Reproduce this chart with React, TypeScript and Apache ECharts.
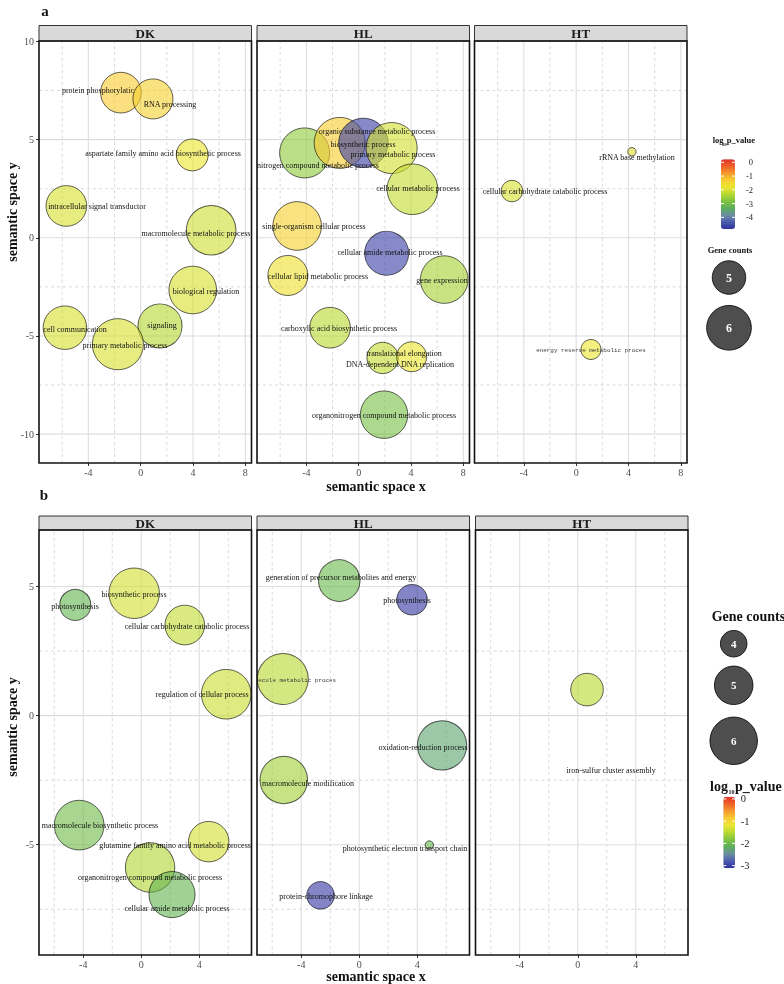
import React, { useEffect, useRef } from "react";
import * as echarts from "echarts";

// ---------------- data ----------------
const PANEL_NAMES = ["DK", "HL", "HT"];

// tick / grid-line values
const A_X_TICKS = [-4, 0, 4, 8];
const A_X_MINOR = [-6, -2, 2, 6];
const A_Y_TICKS = [10, 5, 0, -5, -10];
const A_Y_MINOR = [7.5, 2.5, -2.5, -7.5];
const B_X_TICKS = [-4, 0, 4];
const B_X_MINOR = [-6, -2, 2, 6];
const B_Y_TICKS = [5, 0, -5];
const B_Y_MINOR = [2.5, -2.5, -7.5];

// axis extents
const A_X_RANGE = [-7.77, 8.47];
const A_Y_RANGE = [-11.47, 10.02];
const B_X_RANGE = [-7.05, 7.6];
const B_Y_RANGE = [-9.27, 7.19];

// colour scale extents (log10 p_value) and legend breaks
const A_LOGP_RANGE = [-4.85, 0.22];
const B_LOGP_RANGE = [-3.12, 0.1];
const A_LOGP_BREAKS = [0, -1, -2, -3, -4];
const B_LOGP_BREAKS = [0, -1, -2, -3];
const A_COUNT_BREAKS = [5, 6];
const B_COUNT_BREAKS = [4, 5, 6];

// ---- figure a, DK ----
const A_DK_TERMS = [
  "protein phosphorylatic",
  "RNA processing",
  "aspartate family amino acid biosynthetic process",
  "intracellular signal transductor",
  "macromolecule metabolic process",
  "biological regulation",
  "cell communication",
  "signaling",
  "primary metabolic process",
];
const A_DK_X = [-1.51, 0.94, 3.94, -5.68, 5.39, 3.98, -5.79, 1.48, -1.74];
const A_DK_Y = [7.39, 7.07, 4.22, 1.62, 0.38, -2.66, -4.58, -4.49, -5.42];
const A_DK_GENES = [5.61, 5.55, 4.89, 5.61, 6.54, 6.31, 5.88, 5.94, 6.7];
const A_DK_LOGP = [-1.3, -1.4, -1.8, -2.0, -2.1, -2.0, -2.0, -2.35, -2.0];
const A_DK_LABEL_X = [-3.29, 2.27, 1.72, -3.33, 4.2, 4.99, -5.02, 1.61, -1.18];
const A_DK_LABEL_Y = [7.54, 6.82, 4.31, 1.63, 0.25, -2.69, -4.67, -4.42, -5.48];

// ---- figure a, HL ----
const A_HL_TERMS = [
  "cellular nitrogen compound metabolic process",
  "organic substance metabolic process",
  "biosynthetic process",
  "primary metabolic process",
  "cellular metabolic process",
  "single-organism cellular process",
  "cellular amide metabolic process",
  "cellular lipid metabolic process",
  "gene expression",
  "carboxylic acid biosynthetic process",
  "translational elongation",
  "DNA-dependent DNA replication",
  "organonitrogen compound metabolic process",
];
const A_HL_X = [-4.13, -1.45, 0.36, 2.52, 4.11, -4.7, 2.14, -5.41, 6.54, -2.19, 1.83, 4.05, 1.94];
const A_HL_Y = [4.32, 4.83, 4.83, 4.57, 2.47, 0.6, -0.79, -1.92, -2.13, -4.58, -6.12, -6.06, -9.01];
const A_HL_GENES = [6.58, 6.7, 6.51, 6.7, 6.65, 6.42, 5.94, 5.55, 6.31, 5.61, 4.85, 4.75, 6.29];
const A_HL_LOGP = [-2.67, -1.3, -4.65, -2.05, -2.2, -1.4, -4.65, -1.7, -2.47, -2.3, -2.2, -1.8, -2.92];
const A_HL_LABEL_X = [-4.08, 1.41, 0.32, 2.61, 4.53, -3.44, 2.41, -3.08, 6.38, -1.5, 3.46, 3.15, 1.94];
const A_HL_LABEL_Y = [3.72, 5.43, 4.75, 4.26, 2.53, 0.59, -0.7, -1.97, -2.14, -4.58, -5.86, -6.42, -9.05];

// ---- figure a, HT ----
const A_HT_TERMS = [
  "rRNA base methylation",
  "cellular carbohydrate catabolic process",
  "energy reserve metabolic proces",
];
const A_HT_X = [4.26, -4.91, 1.13];
const A_HT_Y = [4.38, 2.38, -5.69];
const A_HT_GENES = [3.8, 4.25, 4.18];
const A_HT_LOGP = [-2.0, -2.0, -1.8];
const A_HT_LABEL_X = [4.68, -2.37, 1.14];
const A_HT_LABEL_Y = [4.09, 2.37, -5.7];

// ---- figure b, DK ----
const B_DK_TERMS = [
  "photosynthesis",
  "biosynthetic process",
  "cellular carbohydrate catabolic process",
  "regulation of cellular process",
  "macromolecule biosynthetic process",
  "glutamine family amino acid metabolic process",
  "organonitrogen compound metabolic process",
  "cellular amide metabolic process",
];
const B_DK_X = [-4.55, -0.49, 3.0, 5.86, -4.28, 4.65, 0.61, 2.12];
const B_DK_Y = [4.29, 4.74, 3.51, 0.83, -4.24, -4.88, -5.88, -6.93];
const B_DK_GENES = [4.33, 6.38, 5.12, 6.28, 6.28, 5.2, 6.25, 5.83];
const B_DK_LOGP = [-2.05, -1.35, -1.45, -1.4, -1.95, -1.35, -1.55, -2.05];
const B_DK_LABEL_X = [-4.59, -0.52, 3.14, 4.22, -2.85, 2.33, 0.61, 2.48];
const B_DK_LABEL_Y = [4.26, 4.73, 3.48, 0.83, -4.25, -5.0, -6.25, -7.46];

// ---- figure b, HL ----
const B_HL_TERMS = [
  "generation of precursor metabolites and energy",
  "photosynthesis",
  "macromolecule metabolic proces",
  "oxidation-reduction process",
  "macromolecule modification",
  "photosynthetic electron transport chain",
  "protein-chromophore linkage",
];
const B_HL_X = [-1.38, 3.64, -5.27, 5.71, -5.2, 4.83, -2.67];
const B_HL_Y = [5.23, 4.49, 1.42, -1.15, -2.49, -5.01, -6.96];
const B_HL_GENES = [5.33, 4.3, 6.46, 6.25, 6.02, 3.17, 4.07];
const B_HL_LOGP = [-2.0, -3.05, -1.5, -2.25, -1.65, -2.0, -3.05];
const B_HL_LABEL_X = [-1.23, 3.28, -5.27, 4.39, -3.5, 3.14, -2.29];
const B_HL_LABEL_Y = [5.38, 4.49, 1.38, -1.2, -2.59, -5.11, -6.98];

// ---- figure b, HT ----
const B_HT_TERMS = ["iron-sulfur cluster assembly"];
const B_HT_X = [0.64];
const B_HT_Y = [1.01];
const B_HT_GENES = [4.46];
const B_HT_LOGP = [-1.5];
const B_HT_LABEL_X = [2.31];
const B_HT_LABEL_Y = [-2.11];

// labels drawn in a monospaced face in the original
const MONO_TERMS = ["energy reserve metabolic proces", "macromolecule metabolic proces"];

// ---------------- styling ----------------
const PALETTE = [
  "#30309e", "#4a5aae", "#6a8fa0", "#5aae5a", "#7ec440", "#b8d832",
  "#ece631", "#f8cc30", "#f59a2e", "#ee6028", "#e33026",
];
const SERIF = '"Liberation Serif", "Times New Roman", serif';
const MONO = '"Liberation Mono", "DejaVu Sans Mono", monospace';

// ggplot-like area scales (diameter in px from gene count)
const sizeA = (c: number) => 29.56 * Math.sqrt(Math.max(c - 3.72, 0));
const sizeB = (c: number) => 27.75 * Math.sqrt(Math.max(c - 3.08, 0));

type Panel = {
  terms: string[]; x: number[]; y: number[]; genes: number[]; logp: number[];
  lx: number[]; ly: number[];
};

const FIG_A_PANELS: Panel[] = [
  { terms: A_DK_TERMS, x: A_DK_X, y: A_DK_Y, genes: A_DK_GENES, logp: A_DK_LOGP, lx: A_DK_LABEL_X, ly: A_DK_LABEL_Y },
  { terms: A_HL_TERMS, x: A_HL_X, y: A_HL_Y, genes: A_HL_GENES, logp: A_HL_LOGP, lx: A_HL_LABEL_X, ly: A_HL_LABEL_Y },
  { terms: A_HT_TERMS, x: A_HT_X, y: A_HT_Y, genes: A_HT_GENES, logp: A_HT_LOGP, lx: A_HT_LABEL_X, ly: A_HT_LABEL_Y },
];
const FIG_B_PANELS: Panel[] = [
  { terms: B_DK_TERMS, x: B_DK_X, y: B_DK_Y, genes: B_DK_GENES, logp: B_DK_LOGP, lx: B_DK_LABEL_X, ly: B_DK_LABEL_Y },
  { terms: B_HL_TERMS, x: B_HL_X, y: B_HL_Y, genes: B_HL_GENES, logp: B_HL_LOGP, lx: B_HL_LABEL_X, ly: B_HL_LABEL_Y },
  { terms: B_HT_TERMS, x: B_HT_X, y: B_HT_Y, genes: B_HT_GENES, logp: B_HT_LOGP, lx: B_HT_LABEL_X, ly: B_HT_LABEL_Y },
];

const PANEL_W = 212.5;
const FIGS = [
  {
    panels: FIG_A_PANELS, lefts: [39, 257, 474.5], top: 41, h: 422, stripTop: 25.5,
    xr: A_X_RANGE, yr: A_Y_RANGE, xt: A_X_TICKS, xm: A_X_MINOR, yt: A_Y_TICKS, ym: A_Y_MINOR,
    size: sizeA, logpRange: A_LOGP_RANGE,
  },
  {
    panels: FIG_B_PANELS, lefts: [39, 257, 475.5], top: 530, h: 425, stripTop: 516,
    xr: B_X_RANGE, yr: B_Y_RANGE, xt: B_X_TICKS, xm: B_X_MINOR, yt: B_Y_TICKS, ym: B_Y_MINOR,
    size: sizeB, logpRange: B_LOGP_RANGE,
  },
];

function buildOption() {
  const grid: any[] = [];
  const xAxis: any[] = [];
  const yAxis: any[] = [];
  const series: any[] = [];
  const graphic: any[] = [];
  const bubbleIdx: number[][] = [[], []];

  FIGS.forEach((fig, fi) => {
    fig.panels.forEach((p, pi) => {
      const gi = grid.length;
      const left = fig.lefts[pi];
      grid.push({ left, top: fig.top, width: PANEL_W, height: fig.h, containLabel: false });
      xAxis.push({
        type: "value", gridIndex: gi, min: fig.xr[0], max: fig.xr[1], position: "bottom",
        axisLine: { show: false, onZero: false }, splitLine: { show: false },
        axisTick: { show: true, customValues: fig.xt, length: 3, lineStyle: { color: "#333", width: 1 } },
        axisLabel: { customValues: fig.xt, margin: 4, color: "#4d4d4d", fontFamily: SERIF, fontSize: 10 },
      });
      yAxis.push({
        type: "value", gridIndex: gi, min: fig.yr[0], max: fig.yr[1], position: "left",
        axisLine: { show: false, onZero: false }, splitLine: { show: false },
        axisTick: { show: pi === 0, customValues: fig.yt, length: 3, lineStyle: { color: "#333", width: 1 } },
        axisLabel: { show: pi === 0, customValues: fig.yt, margin: 5, color: "#4d4d4d", fontFamily: SERIF, fontSize: 10 },
      });

      // grid lines
      const lines: { v: number; major: boolean; vert: boolean }[] = [];
      fig.xm.forEach((v) => lines.push({ v, major: false, vert: true }));
      fig.ym.forEach((v) => lines.push({ v, major: false, vert: false }));
      fig.xt.forEach((v) => lines.push({ v, major: true, vert: true }));
      fig.yt.forEach((v) => lines.push({ v, major: true, vert: false }));
      const xr = fig.xr, yr = fig.yr;
      series.push({
        type: "custom", xAxisIndex: gi, yAxisIndex: gi, silent: true, z: 1, clip: true,
        data: lines.map((l) => [l.vert ? l.v : 0, l.vert ? 0 : l.v]),
        renderItem: (params: any, api: any) => {
          const l = lines[params.dataIndex];
          const p1 = l.vert ? api.coord([l.v, yr[0]]) : api.coord([xr[0], l.v]);
          const p2 = l.vert ? api.coord([l.v, yr[1]]) : api.coord([xr[1], l.v]);
          return {
            type: "line",
            shape: { x1: p1[0], y1: p1[1], x2: p2[0], y2: p2[1] },
            style: l.major
              ? { stroke: "#dedede", lineWidth: 1.1 }
              : { stroke: "#d0d0d0", lineWidth: 0.8, lineDash: [3, 3] },
          };
        },
      });

      // bubbles
      bubbleIdx[fi].push(series.length);
      series.push({
        type: "scatter", xAxisIndex: gi, yAxisIndex: gi, z: 3, silent: true,
        data: p.x.map((x, i) => [x, p.y[i], p.genes[i], p.logp[i]]),
        symbolSize: (v: number[]) => fig.size(v[2]),
        itemStyle: { opacity: 0.62, borderColor: "#000", borderWidth: 1 },
        emphasis: { disabled: true },
      });

      // labels
      series.push({
        type: "custom", xAxisIndex: gi, yAxisIndex: gi, silent: true, z: 5, clip: true,
        data: p.lx.map((x, i) => [x, p.ly[i]]),
        renderItem: (params: any, api: any) => {
          const i = params.dataIndex;
          const pt = api.coord([api.value(0), api.value(1)]);
          const mono = MONO_TERMS.indexOf(p.terms[i]) >= 0;
          return {
            type: "text", x: Math.round(pt[0]), y: Math.round(pt[1]),
            style: {
              text: p.terms[i],
              fill: mono ? "#3a3a3a" : "#111111",
              fontFamily: mono ? MONO : SERIF,
              fontSize: mono ? 5.9 : 8,
              align: "center",
              verticalAlign: "middle",
            },
          };
        },
      });

      // strip + border
      graphic.push({
        type: "rect", z: 50,
        shape: { x: left, y: fig.stripTop, width: PANEL_W, height: fig.top - fig.stripTop },
        style: { fill: "#d9d9d9", stroke: "#333", lineWidth: 1 },
      });
      graphic.push({
        type: "text", z: 51, x: left + PANEL_W / 2, y: (fig.stripTop + fig.top) / 2 + 0.5,
        style: {
          text: PANEL_NAMES[pi], fontFamily: SERIF, fontWeight: "bold", fontSize: 13, fill: "#1a1a1a",
          align: "center", verticalAlign: "middle",
        },
      });
      graphic.push({
        type: "rect", z: 60,
        shape: { x: left, y: fig.top, width: PANEL_W, height: fig.h },
        style: { fill: "none", stroke: "#111", lineWidth: 1.6 },
      });
    });
  });

  const txt = (x: number, y: number, text: string, o: any = {}) => ({
    type: "text", z: 70, x, y,
    style: {
      text, fontFamily: SERIF, fontSize: o.size || 10, fontWeight: o.bold ? "bold" : "normal",
      fill: o.fill || "#111", align: o.align || "center", verticalAlign: "middle",
    },
    rotation: o.rot || 0,
  });

  // figure letters and axis titles
  graphic.push(txt(45, 11, "a", { bold: true, size: 15 }));
  graphic.push(txt(44, 495, "b", { bold: true, size: 15 }));
  graphic.push(txt(376, 486.5, "semantic space x", { bold: true, size: 14 }));
  graphic.push(txt(376, 976.5, "semantic space x", { bold: true, size: 14 }));
  graphic.push(txt(12, 212, "semantic space y", { bold: true, size: 14, rot: Math.PI / 2 }));
  graphic.push(txt(12, 727, "semantic space y", { bold: true, size: 14, rot: Math.PI / 2 }));

  // ---- legend a ----
  graphic.push(txt(712.7, 140, "log", { bold: true, size: 8.5, align: "left" }));
  graphic.push(txt(721.8, 144.5, "10", { bold: true, size: 5, align: "left" }));
  graphic.push(txt(726.7, 140, "p_value", { bold: true, size: 8.5, align: "left" }));
  const aBar = { x: 721, y: 159.3, w: 14, h: 69.7 };
  const aY = (v: number) => aBar.y + ((A_LOGP_RANGE[1] - v) / (A_LOGP_RANGE[1] - A_LOGP_RANGE[0])) * aBar.h;
  A_LOGP_BREAKS.forEach((v) => {
    const y = aY(v);
    graphic.push(txt(753, y, String(v), { size: 8.5, align: "right", fill: "#222" }));
    graphic.push({ type: "line", z: 80, shape: { x1: aBar.x, y1: y, x2: aBar.x + 3, y2: y }, style: { stroke: "#fff", lineWidth: 1 } });
    graphic.push({ type: "line", z: 80, shape: { x1: aBar.x + aBar.w - 3, y1: y, x2: aBar.x + aBar.w, y2: y }, style: { stroke: "#fff", lineWidth: 1 } });
  });
  graphic.push(txt(730, 250, "Gene counts", { bold: true, size: 8.5 }));
  const aCircY = [277.5, 327.8];
  A_COUNT_BREAKS.forEach((c, i) => {
    graphic.push({
      type: "circle", z: 70, shape: { cx: 729, cy: aCircY[i], r: sizeA(c) / 2 },
      style: { fill: "rgba(0,0,0,0.7)", stroke: "rgba(0,0,0,0.85)", lineWidth: 1 },
    });
    graphic.push(txt(729, aCircY[i], String(c), { bold: true, size: 12, fill: "#fff" }));
  });

  // ---- legend b ----
  graphic.push(txt(711.7, 616.7, "Gene counts", { bold: true, size: 14, align: "left" }));
  const bCircY = [643.7, 685.3, 740.8];
  B_COUNT_BREAKS.forEach((c, i) => {
    graphic.push({
      type: "circle", z: 70, shape: { cx: 733.7, cy: bCircY[i], r: sizeB(c) / 2 },
      style: { fill: "rgba(0,0,0,0.7)", stroke: "rgba(0,0,0,0.85)", lineWidth: 1 },
    });
    graphic.push(txt(733.7, bCircY[i], String(c), { bold: true, size: 11, fill: "#fff" }));
  });
  graphic.push(txt(710, 786, "log", { bold: true, size: 14, align: "left" }));
  graphic.push(txt(728.5, 792, "10", { bold: true, size: 6, align: "left" }));
  graphic.push(txt(735, 786, "p_value", { bold: true, size: 14, align: "left" }));
  const bBar = { x: 723.3, y: 796.7, w: 11.7, h: 71.6 };
  const bY = (v: number) => bBar.y + ((B_LOGP_RANGE[1] - v) / (B_LOGP_RANGE[1] - B_LOGP_RANGE[0])) * bBar.h;
  B_LOGP_BREAKS.forEach((v) => {
    const y = bY(v);
    graphic.push(txt(740.7, y, String(v), { size: 10.5, align: "left", fill: "#222" }));
    graphic.push({ type: "line", z: 80, shape: { x1: bBar.x, y1: y, x2: bBar.x + 3, y2: y }, style: { stroke: "#fff", lineWidth: 1 } });
    graphic.push({ type: "line", z: 80, shape: { x1: bBar.x + bBar.w - 3, y1: y, x2: bBar.x + bBar.w, y2: y }, style: { stroke: "#fff", lineWidth: 1 } });
  });

  const visualMap = [
    {
      type: "continuous", min: A_LOGP_RANGE[0], max: A_LOGP_RANGE[1], dimension: 3,
      seriesIndex: bubbleIdx[0], inRange: { color: PALETTE },
      left: aBar.x, top: aBar.y, itemWidth: aBar.w, itemHeight: aBar.h, padding: 0,
      calculable: false, hoverLink: false, show: true, textStyle: { fontSize: 0 },
    },
    {
      type: "continuous", min: B_LOGP_RANGE[0], max: B_LOGP_RANGE[1], dimension: 3,
      seriesIndex: bubbleIdx[1], inRange: { color: PALETTE },
      left: bBar.x, top: bBar.y, itemWidth: bBar.w, itemHeight: bBar.h, padding: 0,
      calculable: false, hoverLink: false, show: true, textStyle: { fontSize: 0 },
    },
  ];

  return {
    animation: false,
    backgroundColor: "transparent",
    grid, xAxis, yAxis, series, graphic, visualMap,
  };
}

export default function App() {
  const ref = useRef<HTMLDivElement>(null);
  useEffect(() => {
    if (!ref.current) return;
    const chart = echarts.init(ref.current, undefined, { renderer: "svg" });
    chart.setOption(buildOption() as any);
    return () => chart.dispose();
  }, []);
  return (
    <div
      ref={ref}
      style={{
        position: "absolute", left: 0, top: 0, width: 784, height: 984,
        opacity: 0.995, willChange: "transform",
      }}
    />
  );
}
